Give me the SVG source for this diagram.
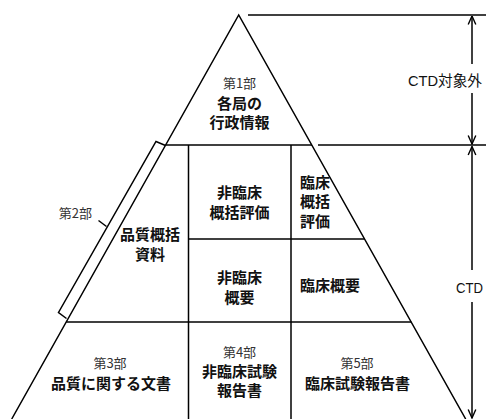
<svg xmlns="http://www.w3.org/2000/svg" width="486" height="419" viewBox="0 0 486 419">
<defs>
<marker id="arr" markerUnits="userSpaceOnUse" markerWidth="10" markerHeight="10" viewBox="0 0 10 10" refX="9.5" refY="5" orient="auto-start-reverse">
<path d="M1,1.2 L9.5,5 L1,8.8" fill="none" stroke="#000" stroke-width="1.4"/>
</marker>
<style>
.ln{stroke:#000;stroke-width:1.5;fill:none}
.b{font-family:"Noto Sans CJK JP","Liberation Sans",sans-serif;font-weight:700;font-size:15px;fill:#111}
.r{font-family:"Noto Sans CJK JP","Liberation Sans",sans-serif;font-weight:400;font-size:13px;fill:#333}
.c{font-family:"Liberation Sans","Noto Sans CJK JP",sans-serif;font-size:15px;fill:#111}
.m{text-anchor:middle}
</style>
</defs>
<rect width="486" height="419" fill="#fff"/>
<g id="pyramid">
<path class="ln" d="M11.7,419 L238.7,15 L465.7,419"/>
</g>
<g id="part1">
<text class="r m" x="239.5" y="88">第1部</text>
<text class="b m" x="239.5" y="109">各局の</text>
<text class="b m" x="239.5" y="128">行政情報</text>
</g>
<g id="part2">
<path class="ln" d="M165.5,145.5 L156,141.5 L58.5,312.5 L66.5,318.5"/>
<path class="ln" d="M106.5,226.5 L98.5,220.5"/>
<text class="r" x="92" y="218" text-anchor="end">第2部</text>
</g>
<g id="quality">
<text class="b m" x="150" y="240">品質概括</text>
<text class="b m" x="150" y="260">資料</text>
</g>
<g id="nonclinical-overview">
<text class="b m" x="239.5" y="197.5">非臨床</text>
<text class="b m" x="239.5" y="217.5">概括評価</text>
</g>
<g id="clinical-overview">
<text class="b" x="300" y="187.5">臨床</text>
<text class="b" x="300" y="207">概括</text>
<text class="b" x="300" y="226.5">評価</text>
</g>
<g id="nonclinical-summary">
<text class="b m" x="239.5" y="282.5">非臨床</text>
<text class="b m" x="239.5" y="302.5">概要</text>
</g>
<g id="clinical-summary">
<text class="b" x="300" y="290.5">臨床概要</text>
</g>
<g id="part3">
<text class="r m" x="110" y="367.5">第3部</text>
<text class="b m" x="111" y="389">品質に関する文書</text>
</g>
<g id="part4">
<text class="r m" x="239.5" y="357">第4部</text>
<text class="b m" x="239.5" y="377">非臨床試験</text>
<text class="b m" x="239.5" y="396">報告書</text>
</g>
<g id="part5">
<text class="r m" x="357" y="367.5">第5部</text>
<text class="b m" x="357.5" y="389">臨床試験報告書</text>
</g>
<g id="connectors">
<path class="ln" d="M165.7,145 L312,145"/>
<path class="ln" d="M188.5,145 L188.5,419"/>
<path class="ln" d="M291,145 L291,419"/>
<path class="ln" d="M188.5,239 L364.5,239"/>
<path class="ln" d="M66.3,322 L411.3,322"/>
<path class="ln" d="M248,15 L486,15"/>
<path class="ln" d="M318,145 L486,145"/>
<path class="ln" d="M472,64 L472,16" marker-end="url(#arr)"/>
<path class="ln" d="M472,93 L472,144" marker-end="url(#arr)"/>
<path class="ln" d="M472,270 L472,146.5" marker-end="url(#arr)"/>
<path class="ln" d="M472,302 L472,418" marker-end="url(#arr)"/>
</g>
<g id="labels">
<text class="c" x="408" y="86" textLength="74" lengthAdjust="spacingAndGlyphs">CTD対象外</text>
<text class="c" x="456" y="292.5" textLength="27" lengthAdjust="spacingAndGlyphs">CTD</text>
</g>
</svg>
